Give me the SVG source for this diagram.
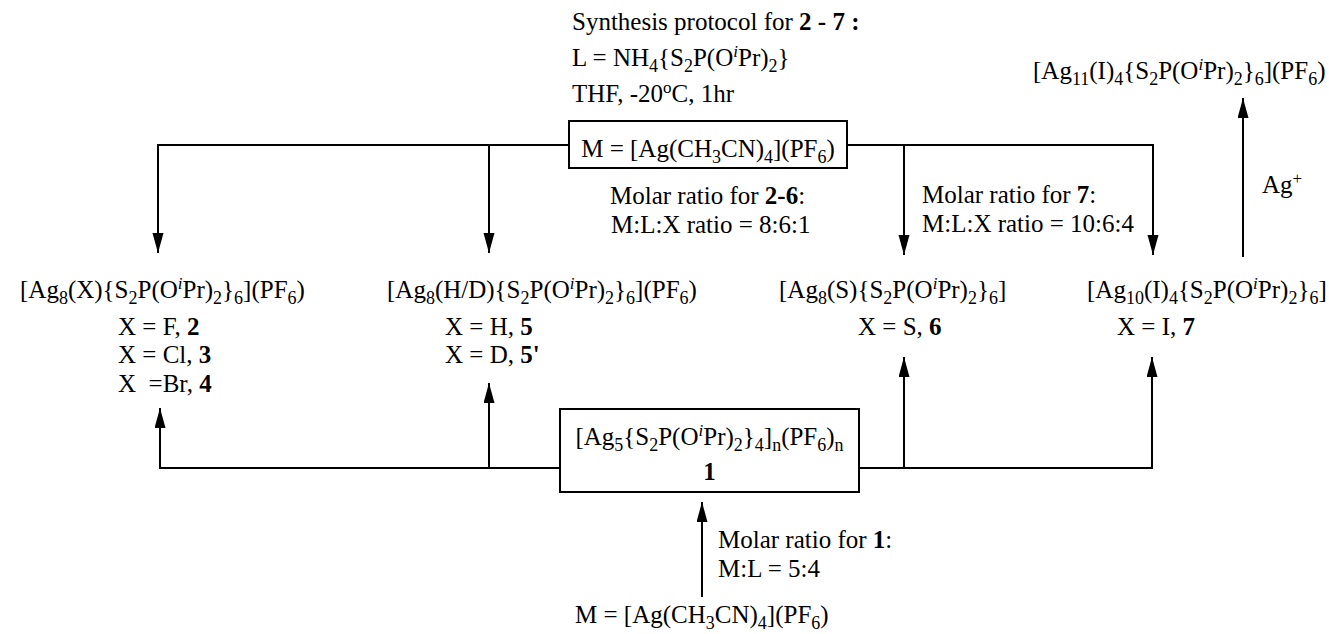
<svg xmlns="http://www.w3.org/2000/svg" width="1329" height="634" viewBox="0 0 1329 634">
<style>
text{font-family:"Liberation Serif","Times New Roman",serif;font-size:25px;fill:#000}
.d{font-size:18px;baseline-shift:-6px}
.u{font-size:17px;font-style:italic;baseline-shift:9px}
.s{font-size:17px;baseline-shift:9px}
.b{font-weight:bold}
.box{fill:#fff;stroke:#000;stroke-width:2}
.c{fill:none;stroke:#000;stroke-width:2}
</style>
<defs>
<marker id="ah" markerUnits="userSpaceOnUse" markerWidth="22" markerHeight="12" refX="20" refY="5.5" orient="auto">
<path d="M0,0 L20,5.5 L0,11 z" fill="#000"/>
</marker>
</defs>
<rect width="1329" height="634" fill="#fff"/>
<g id="connectors">
<path class="c" d="M569 145 H158 V253" marker-end="url(#ah)"/>
<path class="c" d="M489 145 V253" marker-end="url(#ah)"/>
<path class="c" d="M847 145 H1153 V255" marker-end="url(#ah)"/>
<path class="c" d="M904 145 V255" marker-end="url(#ah)"/>
<path class="c" d="M1243 257 V98" marker-end="url(#ah)"/>
<path class="c" d="M560 468 H160 V408" marker-end="url(#ah)"/>
<path class="c" d="M489 468 V383" marker-end="url(#ah)"/>
<path class="c" d="M859 468 H1152 V357" marker-end="url(#ah)"/>
<path class="c" d="M904 468 V357" marker-end="url(#ah)"/>
<path class="c" d="M702 597 V502" marker-end="url(#ah)"/>
</g>
<g id="protocol">
<text x="572" y="30">Synthesis protocol for <tspan class="b">2 - 7 :</tspan></text>
<text x="572" y="66">L = NH<tspan class="d">4</tspan>{S<tspan class="d">2</tspan>P(O<tspan class="u">i</tspan>Pr)<tspan class="d">2</tspan>}</text>
<text x="572" y="102">THF, -20<tspan class="s">o</tspan>C, 1hr</text>
</g>
<g id="reagent-top">
<rect class="box" x="569" y="121" width="278" height="47"/>
<text x="708" y="157" text-anchor="middle">M = [Ag(CH<tspan class="d">3</tspan>CN)<tspan class="d">4</tspan>](PF<tspan class="d">6</tspan>)</text>
</g>
<g id="ratio-2-6">
<text x="610" y="204">Molar ratio for <tspan class="b">2-6</tspan>:</text>
<text x="611" y="233">M:L:X ratio = 8:6:1</text>
</g>
<g id="ratio-7">
<text x="922" y="203">Molar ratio for <tspan class="b">7</tspan>:</text>
<text x="922" y="232">M:L:X ratio = 10:6:4</text>
</g>
<g id="compound-11">
<text x="1033" y="79">[Ag<tspan class="d">11</tspan>(I)<tspan class="d">4</tspan>{S<tspan class="d">2</tspan>P(O<tspan class="u">i</tspan>Pr)<tspan class="d">2</tspan>}<tspan class="d">6</tspan>](PF<tspan class="d">6</tspan>)</text>
<text x="1262" y="193">Ag<tspan class="s">+</tspan></text>
</g>
<g id="compound-2-4">
<text x="20" y="298">[Ag<tspan class="d">8</tspan>(X){S<tspan class="d">2</tspan>P(O<tspan class="u">i</tspan>Pr)<tspan class="d">2</tspan>}<tspan class="d">6</tspan>](PF<tspan class="d">6</tspan>)</text>
<text x="118" y="335">X = F, <tspan class="b">2</tspan></text>
<text x="118" y="363">X = Cl, <tspan class="b">3</tspan></text>
<text x="118" y="392" xml:space="preserve" style="white-space:pre">X  =Br, <tspan class="b">4</tspan></text>
</g>
<g id="compound-5">
<text x="387" y="298">[Ag<tspan class="d">8</tspan>(H/D){S<tspan class="d">2</tspan>P(O<tspan class="u">i</tspan>Pr)<tspan class="d">2</tspan>}<tspan class="d">6</tspan>](PF<tspan class="d">6</tspan>)</text>
<text x="445" y="335">X = H, <tspan class="b">5</tspan></text>
<text x="445" y="363">X = D, <tspan class="b">5'</tspan></text>
</g>
<g id="compound-6">
<text x="779" y="298">[Ag<tspan class="d">8</tspan>(S){S<tspan class="d">2</tspan>P(O<tspan class="u">i</tspan>Pr)<tspan class="d">2</tspan>}<tspan class="d">6</tspan>]</text>
<text x="858" y="335">X = S, <tspan class="b">6</tspan></text>
</g>
<g id="compound-7">
<text x="1087" y="298">[Ag<tspan class="d">10</tspan>(I)<tspan class="d">4</tspan>{S<tspan class="d">2</tspan>P(O<tspan class="u">i</tspan>Pr)<tspan class="d">2</tspan>}<tspan class="d">6</tspan>]</text>
<text x="1117" y="335">X = I, <tspan class="b">7</tspan></text>
</g>
<g id="compound-1">
<rect class="box" x="560" y="409" width="299" height="83"/>
<text x="709.5" y="445" text-anchor="middle">[Ag<tspan class="d">5</tspan>{S<tspan class="d">2</tspan>P(O<tspan class="u">i</tspan>Pr)<tspan class="d">2</tspan>}<tspan class="d">4</tspan>]<tspan class="d">n</tspan>(PF<tspan class="d">6</tspan>)<tspan class="d">n</tspan></text>
<text x="709.5" y="480" text-anchor="middle" class="b">1</text>
</g>
<g id="ratio-1">
<text x="718" y="548">Molar ratio for <tspan class="b">1</tspan>:</text>
<text x="718" y="577">M:L = 5:4</text>
</g>
<g id="reagent-bottom">
<text x="575" y="623">M = [Ag(CH<tspan class="d">3</tspan>CN)<tspan class="d">4</tspan>](PF<tspan class="d">6</tspan>)</text>
</g>
</svg>
